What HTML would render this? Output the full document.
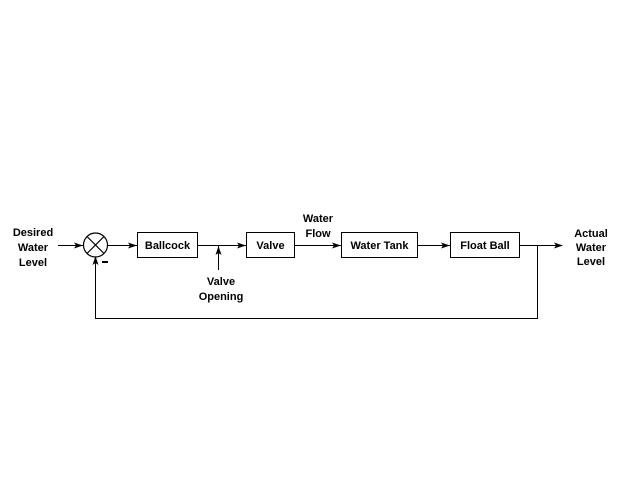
<!DOCTYPE html>
<html>
<head>
<meta charset="utf-8">
<style>
html,body{margin:0;padding:0;background:#fff;}
svg{display:block;}
text{font-family:"Liberation Sans",Arial,sans-serif;font-weight:bold;font-size:11px;fill:#000;}
</style>
</head>
<body>
<svg width="640" height="480" viewBox="0 0 640 480" xmlns="http://www.w3.org/2000/svg">
<rect width="640" height="480" fill="#fff"/>
<g stroke="#000" stroke-width="1" fill="none" shape-rendering="crispEdges">
  <!-- boxes -->
  <rect x="137.5" y="232.5" width="60" height="25"/>
  <rect x="246.5" y="232.5" width="48" height="25"/>
  <rect x="341.5" y="232.5" width="76" height="25"/>
  <rect x="450.5" y="232.5" width="69" height="25"/>
  <!-- lines -->
  <line x1="58" y1="245.5" x2="83" y2="245.5"/>
  <line x1="107" y1="245.5" x2="137" y2="245.5"/>
  <line x1="198" y1="245.5" x2="246" y2="245.5"/>
  <line x1="295" y1="245.5" x2="341" y2="245.5"/>
  <line x1="418" y1="245.5" x2="450" y2="245.5"/>
  <line x1="520" y1="245.5" x2="562" y2="245.5"/>
  <line x1="218.5" y1="246" x2="218.5" y2="270"/>
  <!-- feedback -->
  <polyline points="537.5,245.5 537.5,318.5 95.5,318.5 95.5,258"/>
</g>
<!-- summing junction -->
<g stroke="#000" stroke-width="1.2" fill="none">
  <circle cx="95.5" cy="245" r="12"/>
  <line x1="87" y1="236.5" x2="104" y2="253.5"/>
  <line x1="104" y1="236.5" x2="87" y2="253.5"/>
</g>
<!-- arrowheads -->
<g fill="#000">
  <polygon points="83,245.5 74,242.5 76,245.5 74,248.5"/>
  <polygon points="137,245.5 128,242.5 130,245.5 128,248.5"/>
  <polygon points="246,245.5 237,242.5 239,245.5 237,248.5"/>
  <polygon points="341,245.5 332,242.5 334,245.5 332,248.5"/>
  <polygon points="450,245.5 441,242.5 443,245.5 441,248.5"/>
  <polygon points="563,245.5 554,242.5 556,245.5 554,248.5"/>
  <polygon points="218.5,246 215.5,255 218.5,253 221.5,255"/>
  <polygon points="95.5,256 92.5,265 95.5,263 98.5,265"/>
  <rect x="102" y="261" width="6" height="2"/>
</g>
<!-- labels -->
<g text-anchor="middle">
  <text x="33" y="236">Desired</text>
  <text x="33" y="251">Water</text>
  <text x="33" y="266">Level</text>

  <text x="167.5" y="249">Ballcock</text>
  <text x="270.5" y="249">Valve</text>
  <text x="379.5" y="249">Water Tank</text>
  <text x="485" y="249">Float Ball</text>

  <text x="318" y="222">Water</text>
  <text x="318" y="237">Flow</text>

  <text x="221" y="285">Valve</text>
  <text x="221" y="300">Opening</text>

  <text x="591" y="237">Actual</text>
  <text x="591" y="251">Water</text>
  <text x="591" y="265">Level</text>
</g>
</svg>
</body>
</html>
